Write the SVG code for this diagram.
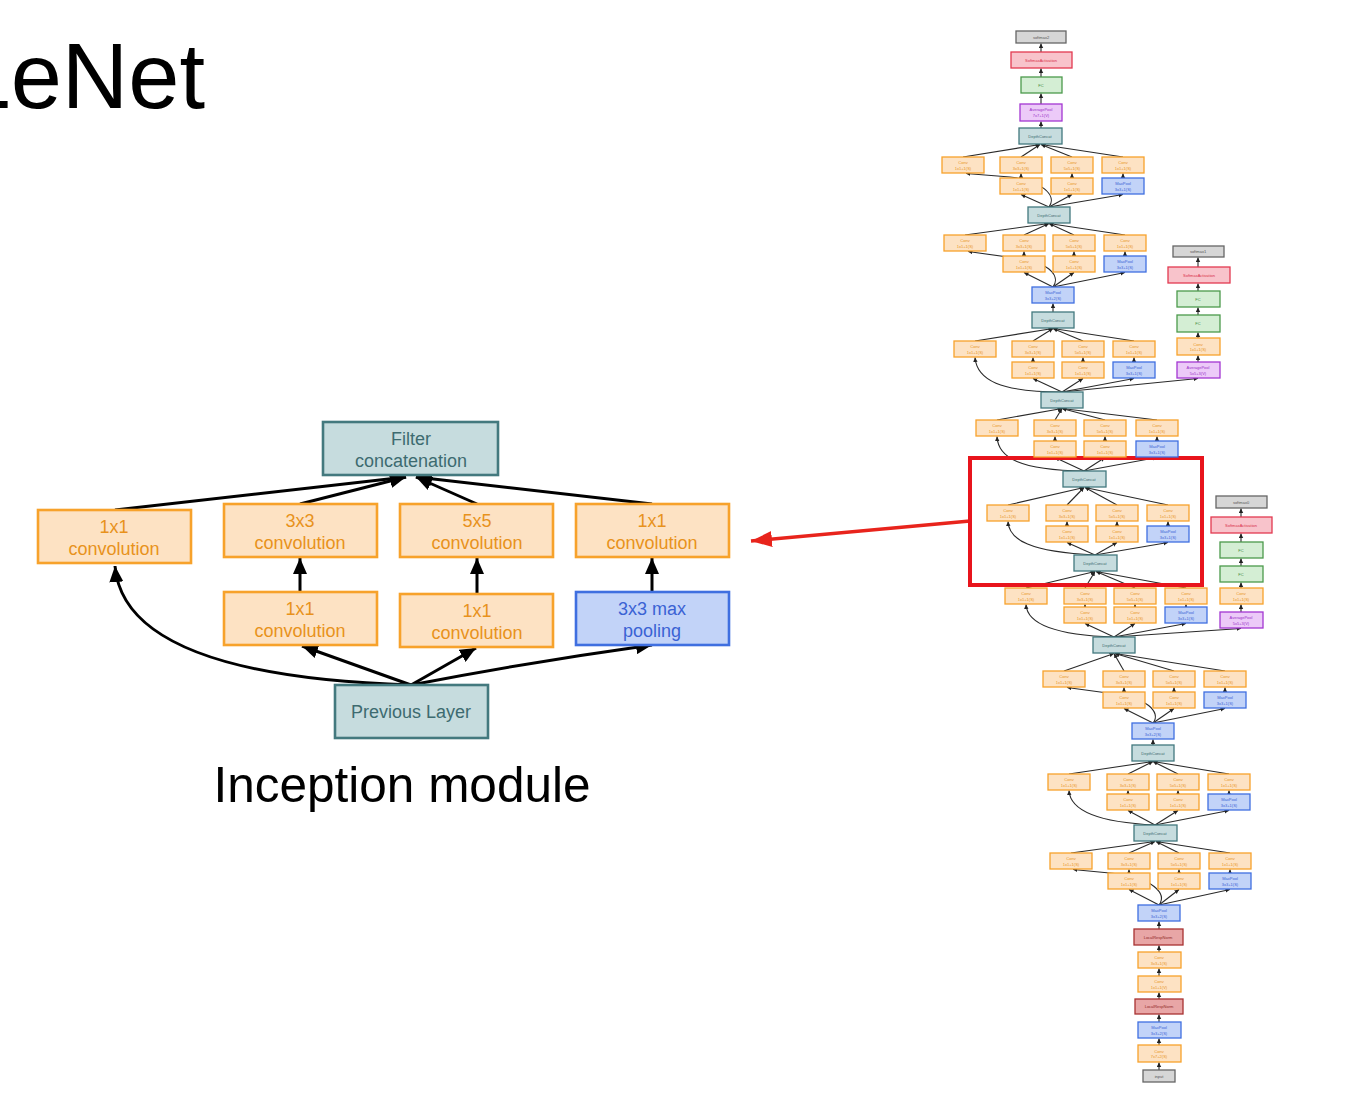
<svg xmlns="http://www.w3.org/2000/svg" width="1356" height="1106" viewBox="0 0 1356 1106">
<defs>
<style>
.lf{font-family:"Liberation Sans",Arial,sans-serif}
.o{fill:#fde2c3;stroke:#f7a22b}
.b{fill:#c2d3f8;stroke:#3f6fe0}
.t{fill:#c6dcde;stroke:#43797e}
.g{fill:#d6d6d6;stroke:#666}
.r{fill:#f8c3cb;stroke:#e23a50}
.l{fill:#e8a6a6;stroke:#a83232}
.gr{fill:#d4eed4;stroke:#4c9a4c}
.p{fill:#eccaf8;stroke:#a436d2}
.big rect{stroke-width:2.6}
.big text{font-family:"Liberation Sans",Arial,sans-serif;font-size:18px;text-anchor:middle}
.sm rect{stroke-width:1.3}
.sm text{font-family:"Liberation Sans",Arial,sans-serif;font-size:4px;text-anchor:middle}
.to{fill:#e8921c}.tb{fill:#3a62d4}.tt{fill:#3d6b70}.tg{fill:#555}.tr{fill:#d8304a}.tl{fill:#902828}.tgr{fill:#3e8a3e}.tp{fill:#9a30c8}
#conn line,#conn path{fill:none}
.e1{stroke:#000;stroke-width:3;marker-end:url(#mb)}
.e2{stroke:#2a2a2a;stroke-width:1.1;marker-end:url(#ms)}
</style>
<marker id="mb" markerUnits="userSpaceOnUse" markerWidth="17" markerHeight="14" refX="16" refY="7" orient="auto"><path d="M0,0 L16,7 L0,14 z" fill="#000"/></marker>
<marker id="mr" markerUnits="userSpaceOnUse" markerWidth="22" markerHeight="16" refX="21" refY="8" orient="auto"><path d="M0,0 L21,8 L0,16 z" fill="#e8241c"/></marker>
<marker id="ms" markerUnits="userSpaceOnUse" markerWidth="5" markerHeight="5" refX="4.5" refY="2.2" orient="auto"><path d="M0,0 L4.5,2.2 L0,4.4 z" fill="#222"/></marker>
</defs>
<rect width="1356" height="1106" fill="#fff"/>
<text class="lf" x="205" y="108" font-size="92" text-anchor="end" fill="#000">LeNet</text>
<text class="lf" x="402" y="802" font-size="49.5" text-anchor="middle" fill="#000">Inception module</text>

<g id="conn">
<!-- left module -->
<line class="e1" x1="115" y1="510" x2="406" y2="477"/>
<line class="e1" x1="300" y1="504" x2="406" y2="477"/>
<line class="e1" x1="477" y1="504" x2="416" y2="477"/>
<line class="e1" x1="652" y1="504" x2="416" y2="477"/>
<line class="e1" x1="300" y1="592" x2="300" y2="558"/>
<line class="e1" x1="477" y1="594" x2="477" y2="558"/>
<line class="e1" x1="652" y1="592" x2="652" y2="558"/>
<path class="e1" d="M411,685 C250,680 122,650 115,566"/>
<line class="e1" x1="411" y1="685" x2="302" y2="646"/>
<line class="e1" x1="411" y1="685" x2="476" y2="648"/>
<path class="e1" d="M411,685 Q530,662 652,645"/>
<line x1="970" y1="521" x2="751" y2="541" stroke="#e8241c" stroke-width="3.5" marker-end="url(#mr)"/>
<!-- right network: main chain -->
<line class="e2" x1="1041" y1="128" x2="1041" y2="121.5"/>
<line class="e2" x1="1041" y1="104" x2="1041" y2="93.5"/>
<line class="e2" x1="1041" y1="77" x2="1041" y2="68.5"/>
<line class="e2" x1="1041" y1="52" x2="1041" y2="43.5"/>
<line class="e2" x1="1053" y1="312" x2="1053" y2="303.5"/>
<line class="e2" x1="1153" y1="745" x2="1153" y2="739.5"/>
<line class="e2" x1="1159" y1="929" x2="1159" y2="921.5"/>
<line class="e2" x1="1159" y1="952" x2="1159" y2="945.5"/>
<line class="e2" x1="1159" y1="976" x2="1159" y2="968.5"/>
<line class="e2" x1="1159" y1="999" x2="1159" y2="992.5"/>
<line class="e2" x1="1159" y1="1022" x2="1159" y2="1014.5"/>
<line class="e2" x1="1159" y1="1045" x2="1159" y2="1038.5"/>
<line class="e2" x1="1159" y1="1070" x2="1159" y2="1062.5"/>
<!-- aux branches -->
<line class="e2" x1="1114" y1="637" x2="1241" y2="628.5"/>
<line class="e2" x1="1241" y1="612" x2="1241" y2="604.5"/>
<line class="e2" x1="1241" y1="588" x2="1241" y2="582.5"/>
<line class="e2" x1="1241" y1="566" x2="1241" y2="558.5"/>
<line class="e2" x1="1241" y1="542" x2="1241" y2="533.5"/>
<line class="e2" x1="1241" y1="517" x2="1241" y2="508.5"/>
<line class="e2" x1="1062" y1="392" x2="1198" y2="378.5"/>
<line class="e2" x1="1198" y1="362" x2="1198" y2="355.5"/>
<line class="e2" x1="1198" y1="338" x2="1198" y2="332.5"/>
<line class="e2" x1="1198" y1="315" x2="1198" y2="307.5"/>
<line class="e2" x1="1198" y1="291" x2="1198" y2="283.5"/>
<line class="e2" x1="1198" y1="267" x2="1198" y2="257.5"/>
<!-- module 5b -->
<line class="e2" x1="963" y1="157" x2="1040" y2="144.5"/><line class="e2" x1="1021" y1="157" x2="1040" y2="144.5"/><line class="e2" x1="1072" y1="157" x2="1041" y2="144.5"/><line class="e2" x1="1123" y1="157" x2="1041" y2="144.5"/>
<line class="e2" x1="1021" y1="178" x2="1021" y2="173.5"/><line class="e2" x1="1072" y1="178" x2="1072" y2="173.5"/><line class="e2" x1="1123" y1="178" x2="1123" y2="173.5"/>
<line class="e2" x1="1049" y1="207" x2="1021" y2="194.5"/><line class="e2" x1="1049" y1="207" x2="1072" y2="194.5"/><line class="e2" x1="1049" y1="207" x2="1123" y2="194.5"/>
<path class="e2" d="M1049,207 C1058,195 1040,180 1010,177 L966,173.5"/>
<!-- module 5a -->
<line class="e2" x1="965" y1="235" x2="1049" y2="223.5"/><line class="e2" x1="1024" y1="235" x2="1049" y2="223.5"/><line class="e2" x1="1074" y1="235" x2="1049" y2="223.5"/><line class="e2" x1="1125" y1="235" x2="1049" y2="223.5"/>
<line class="e2" x1="1024" y1="256" x2="1024" y2="251.5"/><line class="e2" x1="1074" y1="256" x2="1074" y2="251.5"/><line class="e2" x1="1125" y1="256" x2="1125" y2="251.5"/>
<line class="e2" x1="1053" y1="287" x2="1024" y2="272.5"/><line class="e2" x1="1053" y1="287" x2="1074" y2="272.5"/><line class="e2" x1="1053" y1="287" x2="1125" y2="272.5"/>
<path class="e2" d="M1053,287 C1062,275 1045,260 1015,258 L968,251.5"/>
<!-- module 4e -->
<line class="e2" x1="975" y1="341" x2="1053" y2="328.5"/><line class="e2" x1="1033" y1="341" x2="1053" y2="328.5"/><line class="e2" x1="1083" y1="341" x2="1053" y2="328.5"/><line class="e2" x1="1134" y1="341" x2="1053" y2="328.5"/>
<line class="e2" x1="1033" y1="362" x2="1033" y2="357.5"/><line class="e2" x1="1083" y1="362" x2="1083" y2="357.5"/><line class="e2" x1="1134" y1="362" x2="1134" y2="357.5"/>
<line class="e2" x1="1062" y1="392" x2="1033" y2="378.5"/><line class="e2" x1="1062" y1="392" x2="1083" y2="378.5"/><line class="e2" x1="1062" y1="392" x2="1134" y2="378.5"/>
<path class="e2" d="M1062,392 C1000,392 977,380 975,357.5"/>
<!-- module 4d -->
<line class="e2" x1="997" y1="420" x2="1062" y2="408.5"/><line class="e2" x1="1055" y1="420" x2="1062" y2="408.5"/><line class="e2" x1="1105" y1="420" x2="1062" y2="408.5"/><line class="e2" x1="1157" y1="420" x2="1062" y2="408.5"/>
<line class="e2" x1="1055" y1="441" x2="1055" y2="436.5"/><line class="e2" x1="1105" y1="441" x2="1105" y2="436.5"/><line class="e2" x1="1157" y1="441" x2="1157" y2="436.5"/>
<line class="e2" x1="1084" y1="471" x2="1055" y2="457.5"/><line class="e2" x1="1084" y1="471" x2="1105" y2="457.5"/><line class="e2" x1="1084" y1="471" x2="1157" y2="457.5"/>
<path class="e2" d="M1084,471 C1020,470 998,458 997,436.5"/>
<!-- module 4c -->
<line class="e2" x1="1008" y1="505" x2="1084" y2="487.5"/><line class="e2" x1="1067" y1="505" x2="1084" y2="487.5"/><line class="e2" x1="1117" y1="505" x2="1085" y2="487.5"/><line class="e2" x1="1168" y1="505" x2="1085" y2="487.5"/>
<line class="e2" x1="1067" y1="526" x2="1067" y2="521.5"/><line class="e2" x1="1117" y1="526" x2="1117" y2="521.5"/><line class="e2" x1="1168" y1="526" x2="1168" y2="521.5"/>
<line class="e2" x1="1095" y1="555" x2="1067" y2="542.5"/><line class="e2" x1="1095" y1="555" x2="1117" y2="542.5"/><line class="e2" x1="1095" y1="555" x2="1168" y2="542.5"/>
<path class="e2" d="M1095,555 C1030,552 1009,540 1008,521.5"/>
<!-- module 4b -->
<line class="e2" x1="1026" y1="588" x2="1095" y2="571.5"/><line class="e2" x1="1085" y1="588" x2="1095" y2="571.5"/><line class="e2" x1="1135" y1="588" x2="1096" y2="571.5"/><line class="e2" x1="1186" y1="588" x2="1096" y2="571.5"/>
<line class="e2" x1="1085" y1="607" x2="1085" y2="604.5"/><line class="e2" x1="1135" y1="607" x2="1135" y2="604.5"/><line class="e2" x1="1186" y1="607" x2="1186" y2="604.5"/>
<line class="e2" x1="1114" y1="637" x2="1085" y2="623.5"/><line class="e2" x1="1114" y1="637" x2="1135" y2="623.5"/><line class="e2" x1="1114" y1="637" x2="1186" y2="623.5"/>
<path class="e2" d="M1114,637 C1050,635 1027,622 1026,604.5"/>
<!-- module 4a -->
<line class="e2" x1="1064" y1="671" x2="1114" y2="653.5"/><line class="e2" x1="1124" y1="671" x2="1114" y2="653.5"/><line class="e2" x1="1174" y1="671" x2="1115" y2="653.5"/><line class="e2" x1="1225" y1="671" x2="1115" y2="653.5"/>
<line class="e2" x1="1124" y1="692" x2="1124" y2="687.5"/><line class="e2" x1="1174" y1="692" x2="1174" y2="687.5"/><line class="e2" x1="1225" y1="692" x2="1225" y2="687.5"/>
<line class="e2" x1="1153" y1="723" x2="1124" y2="708.5"/><line class="e2" x1="1153" y1="723" x2="1174" y2="708.5"/><line class="e2" x1="1153" y1="723" x2="1225" y2="708.5"/>
<path class="e2" d="M1153,723 C1162,712 1145,697 1115,694 L1067,687.5"/>
<!-- module 3b -->
<line class="e2" x1="1069" y1="774" x2="1153" y2="761.5"/><line class="e2" x1="1128" y1="774" x2="1153" y2="761.5"/><line class="e2" x1="1178" y1="774" x2="1153" y2="761.5"/><line class="e2" x1="1229" y1="774" x2="1153" y2="761.5"/>
<line class="e2" x1="1128" y1="794" x2="1128" y2="790.5"/><line class="e2" x1="1178" y1="794" x2="1178" y2="790.5"/><line class="e2" x1="1229" y1="794" x2="1229" y2="790.5"/>
<line class="e2" x1="1155" y1="825" x2="1128" y2="810.5"/><line class="e2" x1="1155" y1="825" x2="1178" y2="810.5"/><line class="e2" x1="1155" y1="825" x2="1229" y2="810.5"/>
<path class="e2" d="M1155,825 C1090,822 1070,808 1069,790.5"/>
<!-- module 3a -->
<line class="e2" x1="1071" y1="853" x2="1155" y2="841.5"/><line class="e2" x1="1129" y1="853" x2="1155" y2="841.5"/><line class="e2" x1="1179" y1="853" x2="1156" y2="841.5"/><line class="e2" x1="1230" y1="853" x2="1156" y2="841.5"/>
<line class="e2" x1="1129" y1="873" x2="1129" y2="869.5"/><line class="e2" x1="1179" y1="873" x2="1179" y2="869.5"/><line class="e2" x1="1230" y1="873" x2="1230" y2="869.5"/>
<line class="e2" x1="1159" y1="905" x2="1129" y2="889.5"/><line class="e2" x1="1159" y1="905" x2="1179" y2="889.5"/><line class="e2" x1="1159" y1="905" x2="1230" y2="889.5"/>
<path class="e2" d="M1159,905 C1168,893 1150,878 1120,874 L1073,869.5"/>
</g>

<rect x="970" y="458" width="232" height="127" fill="none" stroke="#e8141c" stroke-width="4"/>

<!-- left inception module nodes -->
<g class="big">
<g id="filter_concat"><rect class="t" x="323" y="422" width="175" height="53"/><text class="tt" x="411" y="445">Filter</text><text class="tt" x="411" y="467">concatenation</text></g>
<g id="conv1x1_a"><rect class="o" x="38" y="510" width="153" height="53"/><text class="to" x="114" y="533">1x1</text><text class="to" x="114" y="555">convolution</text></g>
<g id="conv3x3"><rect class="o" x="224" y="504" width="153" height="53"/><text class="to" x="300" y="527">3x3</text><text class="to" x="300" y="549">convolution</text></g>
<g id="conv5x5"><rect class="o" x="400" y="504" width="153" height="53"/><text class="to" x="477" y="527">5x5</text><text class="to" x="477" y="549">convolution</text></g>
<g id="conv1x1_d"><rect class="o" x="576" y="504" width="153" height="53"/><text class="to" x="652" y="527">1x1</text><text class="to" x="652" y="549">convolution</text></g>
<g id="conv1x1_b"><rect class="o" x="224" y="592" width="153" height="53"/><text class="to" x="300" y="615">1x1</text><text class="to" x="300" y="637">convolution</text></g>
<g id="conv1x1_c"><rect class="o" x="400" y="594" width="153" height="53"/><text class="to" x="477" y="617">1x1</text><text class="to" x="477" y="639">convolution</text></g>
<g id="maxpool3x3"><rect class="b" x="576" y="592" width="153" height="53"/><text class="tb" x="652" y="615">3x3 max</text><text class="tb" x="652" y="637">pooling</text></g>
<g id="previous_layer"><rect class="t" x="335" y="685" width="153" height="53"/><text class="tt" x="411" y="718">Previous Layer</text></g>
</g>

<!-- right GoogLeNet network nodes -->
<g class="sm">
<g id="softmax2"><rect class="g" x="1016" y="31" width="50" height="12"/><text class="tg" x="1041" y="38.5">softmax2</text></g>
<g id="softmaxact2"><rect class="r" x="1011" y="52" width="61" height="16"/><text class="tr" x="1041" y="61.5">SoftmaxActivation</text></g>
<g id="fc2"><rect class="gr" x="1021" y="77" width="41" height="16"/><text class="tgr" x="1041" y="86.5">FC</text></g>
<g id="avgpool2"><rect class="p" x="1020" y="104" width="42" height="17"/><text class="tp" x="1041" y="111">AveragePool</text><text class="tp" x="1041" y="116.5">7x7+1(V)</text></g>
<g id="concat_5b"><rect class="t" x="1019" y="128" width="43" height="16"/><text class="tt" x="1040" y="137.5">DepthConcat</text></g>
<g id="m5b_c1"><rect class="o" x="942" y="157" width="42" height="16"/><text class="to" x="963" y="164">Conv</text><text class="to" x="963" y="169.5">1x1+1(S)</text></g>
<g id="m5b_c3"><rect class="o" x="1000" y="157" width="42" height="16"/><text class="to" x="1021" y="164">Conv</text><text class="to" x="1021" y="169.5">3x3+1(S)</text></g>
<g id="m5b_c5"><rect class="o" x="1051" y="157" width="42" height="16"/><text class="to" x="1072" y="164">Conv</text><text class="to" x="1072" y="169.5">5x5+1(S)</text></g>
<g id="m5b_cp"><rect class="o" x="1102" y="157" width="42" height="16"/><text class="to" x="1123" y="164">Conv</text><text class="to" x="1123" y="169.5">1x1+1(S)</text></g>
<g id="m5b_r3"><rect class="o" x="1000" y="178" width="42" height="16"/><text class="to" x="1021" y="185">Conv</text><text class="to" x="1021" y="190.5">1x1+1(S)</text></g>
<g id="m5b_r5"><rect class="o" x="1051" y="178" width="42" height="16"/><text class="to" x="1072" y="185">Conv</text><text class="to" x="1072" y="190.5">1x1+1(S)</text></g>
<g id="m5b_mp"><rect class="b" x="1102" y="178" width="42" height="16"/><text class="tb" x="1123" y="185">MaxPool</text><text class="tb" x="1123" y="190.5">3x3+1(S)</text></g>
<g id="concat_5a"><rect class="t" x="1028" y="207" width="42" height="16"/><text class="tt" x="1049" y="216.5">DepthConcat</text></g>
<g id="m5a_c1"><rect class="o" x="944" y="235" width="42" height="16"/><text class="to" x="965" y="242">Conv</text><text class="to" x="965" y="247.5">1x1+1(S)</text></g>
<g id="m5a_c3"><rect class="o" x="1003" y="235" width="42" height="16"/><text class="to" x="1024" y="242">Conv</text><text class="to" x="1024" y="247.5">3x3+1(S)</text></g>
<g id="m5a_c5"><rect class="o" x="1053" y="235" width="42" height="16"/><text class="to" x="1074" y="242">Conv</text><text class="to" x="1074" y="247.5">5x5+1(S)</text></g>
<g id="m5a_cp"><rect class="o" x="1104" y="235" width="42" height="16"/><text class="to" x="1125" y="242">Conv</text><text class="to" x="1125" y="247.5">1x1+1(S)</text></g>
<g id="m5a_r3"><rect class="o" x="1003" y="256" width="42" height="16"/><text class="to" x="1024" y="263">Conv</text><text class="to" x="1024" y="268.5">1x1+1(S)</text></g>
<g id="m5a_r5"><rect class="o" x="1053" y="256" width="42" height="16"/><text class="to" x="1074" y="263">Conv</text><text class="to" x="1074" y="268.5">1x1+1(S)</text></g>
<g id="m5a_mp"><rect class="b" x="1104" y="256" width="42" height="16"/><text class="tb" x="1125" y="263">MaxPool</text><text class="tb" x="1125" y="268.5">3x3+1(S)</text></g>
<g id="maxpool_4"><rect class="b" x="1032" y="287" width="42" height="16"/><text class="tb" x="1053" y="294">MaxPool</text><text class="tb" x="1053" y="299.5">3x3+2(S)</text></g>
<g id="concat_4e"><rect class="t" x="1032" y="312" width="42" height="16"/><text class="tt" x="1053" y="321.5">DepthConcat</text></g>
<g id="m4e_c1"><rect class="o" x="954" y="341" width="42" height="16"/><text class="to" x="975" y="348">Conv</text><text class="to" x="975" y="353.5">1x1+1(S)</text></g>
<g id="m4e_c3"><rect class="o" x="1012" y="341" width="42" height="16"/><text class="to" x="1033" y="348">Conv</text><text class="to" x="1033" y="353.5">3x3+1(S)</text></g>
<g id="m4e_c5"><rect class="o" x="1062" y="341" width="42" height="16"/><text class="to" x="1083" y="348">Conv</text><text class="to" x="1083" y="353.5">5x5+1(S)</text></g>
<g id="m4e_cp"><rect class="o" x="1113" y="341" width="42" height="16"/><text class="to" x="1134" y="348">Conv</text><text class="to" x="1134" y="353.5">1x1+1(S)</text></g>
<g id="m4e_r3"><rect class="o" x="1012" y="362" width="42" height="16"/><text class="to" x="1033" y="369">Conv</text><text class="to" x="1033" y="374.5">1x1+1(S)</text></g>
<g id="m4e_r5"><rect class="o" x="1062" y="362" width="42" height="16"/><text class="to" x="1083" y="369">Conv</text><text class="to" x="1083" y="374.5">1x1+1(S)</text></g>
<g id="m4e_mp"><rect class="b" x="1113" y="362" width="42" height="16"/><text class="tb" x="1134" y="369">MaxPool</text><text class="tb" x="1134" y="374.5">3x3+1(S)</text></g>
<g id="softmax1"><rect class="g" x="1173" y="246" width="51" height="11"/><text class="tg" x="1198" y="253">softmax1</text></g>
<g id="softmaxact1"><rect class="r" x="1168" y="267" width="62" height="16"/><text class="tr" x="1199" y="276.5">SoftmaxActivation</text></g>
<g id="fc1b"><rect class="gr" x="1177" y="291" width="43" height="16"/><text class="tgr" x="1198" y="300.5">FC</text></g>
<g id="fc1a"><rect class="gr" x="1177" y="315" width="43" height="17"/><text class="tgr" x="1198" y="325">FC</text></g>
<g id="conv_aux1"><rect class="o" x="1177" y="338" width="43" height="17"/><text class="to" x="1198" y="345.5">Conv</text><text class="to" x="1198" y="351">1x1+1(S)</text></g>
<g id="avgpool_aux1"><rect class="p" x="1177" y="362" width="43" height="16"/><text class="tp" x="1198" y="369">AveragePool</text><text class="tp" x="1198" y="374.5">5x5+3(V)</text></g>
<g id="concat_4d"><rect class="t" x="1041" y="392" width="42" height="16"/><text class="tt" x="1062" y="401.5">DepthConcat</text></g>
<g id="m4d_c1"><rect class="o" x="976" y="420" width="42" height="16"/><text class="to" x="997" y="427">Conv</text><text class="to" x="997" y="432.5">1x1+1(S)</text></g>
<g id="m4d_c3"><rect class="o" x="1034" y="420" width="42" height="16"/><text class="to" x="1055" y="427">Conv</text><text class="to" x="1055" y="432.5">3x3+1(S)</text></g>
<g id="m4d_c5"><rect class="o" x="1084" y="420" width="42" height="16"/><text class="to" x="1105" y="427">Conv</text><text class="to" x="1105" y="432.5">5x5+1(S)</text></g>
<g id="m4d_cp"><rect class="o" x="1136" y="420" width="42" height="16"/><text class="to" x="1157" y="427">Conv</text><text class="to" x="1157" y="432.5">1x1+1(S)</text></g>
<g id="m4d_r3"><rect class="o" x="1034" y="441" width="42" height="16"/><text class="to" x="1055" y="448">Conv</text><text class="to" x="1055" y="453.5">1x1+1(S)</text></g>
<g id="m4d_r5"><rect class="o" x="1084" y="441" width="42" height="16"/><text class="to" x="1105" y="448">Conv</text><text class="to" x="1105" y="453.5">1x1+1(S)</text></g>
<g id="m4d_mp"><rect class="b" x="1136" y="441" width="42" height="16"/><text class="tb" x="1157" y="448">MaxPool</text><text class="tb" x="1157" y="453.5">3x3+1(S)</text></g>
<g id="concat_4c"><rect class="t" x="1063" y="471" width="43" height="16"/><text class="tt" x="1084" y="480.5">DepthConcat</text></g>
<g id="m4c_c1"><rect class="o" x="987" y="505" width="42" height="16"/><text class="to" x="1008" y="512">Conv</text><text class="to" x="1008" y="517.5">1x1+1(S)</text></g>
<g id="m4c_c3"><rect class="o" x="1046" y="505" width="42" height="16"/><text class="to" x="1067" y="512">Conv</text><text class="to" x="1067" y="517.5">3x3+1(S)</text></g>
<g id="m4c_c5"><rect class="o" x="1096" y="505" width="42" height="16"/><text class="to" x="1117" y="512">Conv</text><text class="to" x="1117" y="517.5">5x5+1(S)</text></g>
<g id="m4c_cp"><rect class="o" x="1147" y="505" width="42" height="16"/><text class="to" x="1168" y="512">Conv</text><text class="to" x="1168" y="517.5">1x1+1(S)</text></g>
<g id="m4c_r3"><rect class="o" x="1046" y="526" width="42" height="16"/><text class="to" x="1067" y="533">Conv</text><text class="to" x="1067" y="538.5">1x1+1(S)</text></g>
<g id="m4c_r5"><rect class="o" x="1096" y="526" width="42" height="16"/><text class="to" x="1117" y="533">Conv</text><text class="to" x="1117" y="538.5">1x1+1(S)</text></g>
<g id="m4c_mp"><rect class="b" x="1147" y="526" width="42" height="16"/><text class="tb" x="1168" y="533">MaxPool</text><text class="tb" x="1168" y="538.5">3x3+1(S)</text></g>
<g id="concat_4b"><rect class="t" x="1074" y="555" width="43" height="16"/><text class="tt" x="1095" y="564.5">DepthConcat</text></g>
<g id="m4b_c1"><rect class="o" x="1005" y="588" width="42" height="16"/><text class="to" x="1026" y="595">Conv</text><text class="to" x="1026" y="600.5">1x1+1(S)</text></g>
<g id="m4b_c3"><rect class="o" x="1064" y="588" width="42" height="16"/><text class="to" x="1085" y="595">Conv</text><text class="to" x="1085" y="600.5">3x3+1(S)</text></g>
<g id="m4b_c5"><rect class="o" x="1114" y="588" width="42" height="16"/><text class="to" x="1135" y="595">Conv</text><text class="to" x="1135" y="600.5">5x5+1(S)</text></g>
<g id="m4b_cp"><rect class="o" x="1165" y="588" width="42" height="16"/><text class="to" x="1186" y="595">Conv</text><text class="to" x="1186" y="600.5">1x1+1(S)</text></g>
<g id="m4b_r3"><rect class="o" x="1064" y="607" width="42" height="16"/><text class="to" x="1085" y="614">Conv</text><text class="to" x="1085" y="619.5">1x1+1(S)</text></g>
<g id="m4b_r5"><rect class="o" x="1114" y="607" width="42" height="16"/><text class="to" x="1135" y="614">Conv</text><text class="to" x="1135" y="619.5">1x1+1(S)</text></g>
<g id="m4b_mp"><rect class="b" x="1165" y="607" width="42" height="16"/><text class="tb" x="1186" y="614">MaxPool</text><text class="tb" x="1186" y="619.5">3x3+1(S)</text></g>
<g id="softmax0"><rect class="g" x="1216" y="496" width="51" height="12"/><text class="tg" x="1241" y="503.5">softmax0</text></g>
<g id="softmaxact0"><rect class="r" x="1211" y="517" width="61" height="16"/><text class="tr" x="1241" y="526.5">SoftmaxActivation</text></g>
<g id="fc0b"><rect class="gr" x="1220" y="542" width="43" height="16"/><text class="tgr" x="1241" y="551.5">FC</text></g>
<g id="fc0a"><rect class="gr" x="1220" y="566" width="43" height="16"/><text class="tgr" x="1241" y="575.5">FC</text></g>
<g id="conv_aux0"><rect class="o" x="1220" y="588" width="43" height="16"/><text class="to" x="1241" y="595">Conv</text><text class="to" x="1241" y="600.5">1x1+1(S)</text></g>
<g id="avgpool_aux0"><rect class="p" x="1220" y="612" width="43" height="16"/><text class="tp" x="1241" y="619">AveragePool</text><text class="tp" x="1241" y="624.5">5x5+3(V)</text></g>
<g id="concat_4a"><rect class="t" x="1093" y="637" width="42" height="16"/><text class="tt" x="1114" y="646.5">DepthConcat</text></g>
<g id="m4a_c1"><rect class="o" x="1043" y="671" width="42" height="16"/><text class="to" x="1064" y="678">Conv</text><text class="to" x="1064" y="683.5">1x1+1(S)</text></g>
<g id="m4a_c3"><rect class="o" x="1103" y="671" width="42" height="16"/><text class="to" x="1124" y="678">Conv</text><text class="to" x="1124" y="683.5">3x3+1(S)</text></g>
<g id="m4a_c5"><rect class="o" x="1153" y="671" width="42" height="16"/><text class="to" x="1174" y="678">Conv</text><text class="to" x="1174" y="683.5">5x5+1(S)</text></g>
<g id="m4a_cp"><rect class="o" x="1204" y="671" width="42" height="16"/><text class="to" x="1225" y="678">Conv</text><text class="to" x="1225" y="683.5">1x1+1(S)</text></g>
<g id="m4a_r3"><rect class="o" x="1103" y="692" width="42" height="16"/><text class="to" x="1124" y="699">Conv</text><text class="to" x="1124" y="704.5">1x1+1(S)</text></g>
<g id="m4a_r5"><rect class="o" x="1153" y="692" width="42" height="16"/><text class="to" x="1174" y="699">Conv</text><text class="to" x="1174" y="704.5">1x1+1(S)</text></g>
<g id="m4a_mp"><rect class="b" x="1204" y="692" width="42" height="16"/><text class="tb" x="1225" y="699">MaxPool</text><text class="tb" x="1225" y="704.5">3x3+1(S)</text></g>
<g id="maxpool_3"><rect class="b" x="1132" y="723" width="42" height="16"/><text class="tb" x="1153" y="730">MaxPool</text><text class="tb" x="1153" y="735.5">3x3+2(S)</text></g>
<g id="concat_3b"><rect class="t" x="1132" y="745" width="42" height="16"/><text class="tt" x="1153" y="754.5">DepthConcat</text></g>
<g id="m3b_c1"><rect class="o" x="1048" y="774" width="42" height="16"/><text class="to" x="1069" y="781">Conv</text><text class="to" x="1069" y="786.5">1x1+1(S)</text></g>
<g id="m3b_c3"><rect class="o" x="1107" y="774" width="42" height="16"/><text class="to" x="1128" y="781">Conv</text><text class="to" x="1128" y="786.5">3x3+1(S)</text></g>
<g id="m3b_c5"><rect class="o" x="1157" y="774" width="42" height="16"/><text class="to" x="1178" y="781">Conv</text><text class="to" x="1178" y="786.5">5x5+1(S)</text></g>
<g id="m3b_cp"><rect class="o" x="1208" y="774" width="42" height="16"/><text class="to" x="1229" y="781">Conv</text><text class="to" x="1229" y="786.5">1x1+1(S)</text></g>
<g id="m3b_r3"><rect class="o" x="1107" y="794" width="42" height="16"/><text class="to" x="1128" y="801">Conv</text><text class="to" x="1128" y="806.5">1x1+1(S)</text></g>
<g id="m3b_r5"><rect class="o" x="1157" y="794" width="42" height="16"/><text class="to" x="1178" y="801">Conv</text><text class="to" x="1178" y="806.5">1x1+1(S)</text></g>
<g id="m3b_mp"><rect class="b" x="1208" y="794" width="42" height="16"/><text class="tb" x="1229" y="801">MaxPool</text><text class="tb" x="1229" y="806.5">3x3+1(S)</text></g>
<g id="concat_3a"><rect class="t" x="1134" y="825" width="43" height="16"/><text class="tt" x="1155" y="834.5">DepthConcat</text></g>
<g id="m3a_c1"><rect class="o" x="1050" y="853" width="42" height="16"/><text class="to" x="1071" y="860">Conv</text><text class="to" x="1071" y="865.5">1x1+1(S)</text></g>
<g id="m3a_c3"><rect class="o" x="1108" y="853" width="42" height="16"/><text class="to" x="1129" y="860">Conv</text><text class="to" x="1129" y="865.5">3x3+1(S)</text></g>
<g id="m3a_c5"><rect class="o" x="1158" y="853" width="42" height="16"/><text class="to" x="1179" y="860">Conv</text><text class="to" x="1179" y="865.5">5x5+1(S)</text></g>
<g id="m3a_cp"><rect class="o" x="1209" y="853" width="42" height="16"/><text class="to" x="1230" y="860">Conv</text><text class="to" x="1230" y="865.5">1x1+1(S)</text></g>
<g id="m3a_r3"><rect class="o" x="1108" y="873" width="42" height="16"/><text class="to" x="1129" y="880">Conv</text><text class="to" x="1129" y="885.5">1x1+1(S)</text></g>
<g id="m3a_r5"><rect class="o" x="1158" y="873" width="42" height="16"/><text class="to" x="1179" y="880">Conv</text><text class="to" x="1179" y="885.5">1x1+1(S)</text></g>
<g id="m3a_mp"><rect class="b" x="1209" y="873" width="42" height="16"/><text class="tb" x="1230" y="880">MaxPool</text><text class="tb" x="1230" y="885.5">3x3+1(S)</text></g>
<g id="maxpool_2"><rect class="b" x="1138" y="905" width="42" height="16"/><text class="tb" x="1159" y="912">MaxPool</text><text class="tb" x="1159" y="917.5">3x3+2(S)</text></g>
<g id="lrn_2"><rect class="l" x="1134" y="929" width="49" height="16"/><text class="tl" x="1158" y="938.5">LocalRespNorm</text></g>
<g id="conv_3x3_stem"><rect class="o" x="1138" y="952" width="43" height="16"/><text class="to" x="1159" y="959">Conv</text><text class="to" x="1159" y="964.5">3x3+1(S)</text></g>
<g id="conv_1x1_stem"><rect class="o" x="1138" y="976" width="43" height="16"/><text class="to" x="1159" y="983">Conv</text><text class="to" x="1159" y="988.5">1x1+1(V)</text></g>
<g id="lrn_1"><rect class="l" x="1135" y="999" width="48" height="15"/><text class="tl" x="1159" y="1008">LocalRespNorm</text></g>
<g id="maxpool_1"><rect class="b" x="1138" y="1022" width="43" height="16"/><text class="tb" x="1159" y="1029">MaxPool</text><text class="tb" x="1159" y="1034.5">3x3+2(S)</text></g>
<g id="conv_7x7"><rect class="o" x="1138" y="1045" width="43" height="17"/><text class="to" x="1159" y="1052.5">Conv</text><text class="to" x="1159" y="1058">7x7+2(S)</text></g>
<g id="input"><rect class="g" x="1143" y="1070" width="32" height="12"/><text class="tg" x="1159" y="1077.5">input</text></g>
</g>
</svg>
